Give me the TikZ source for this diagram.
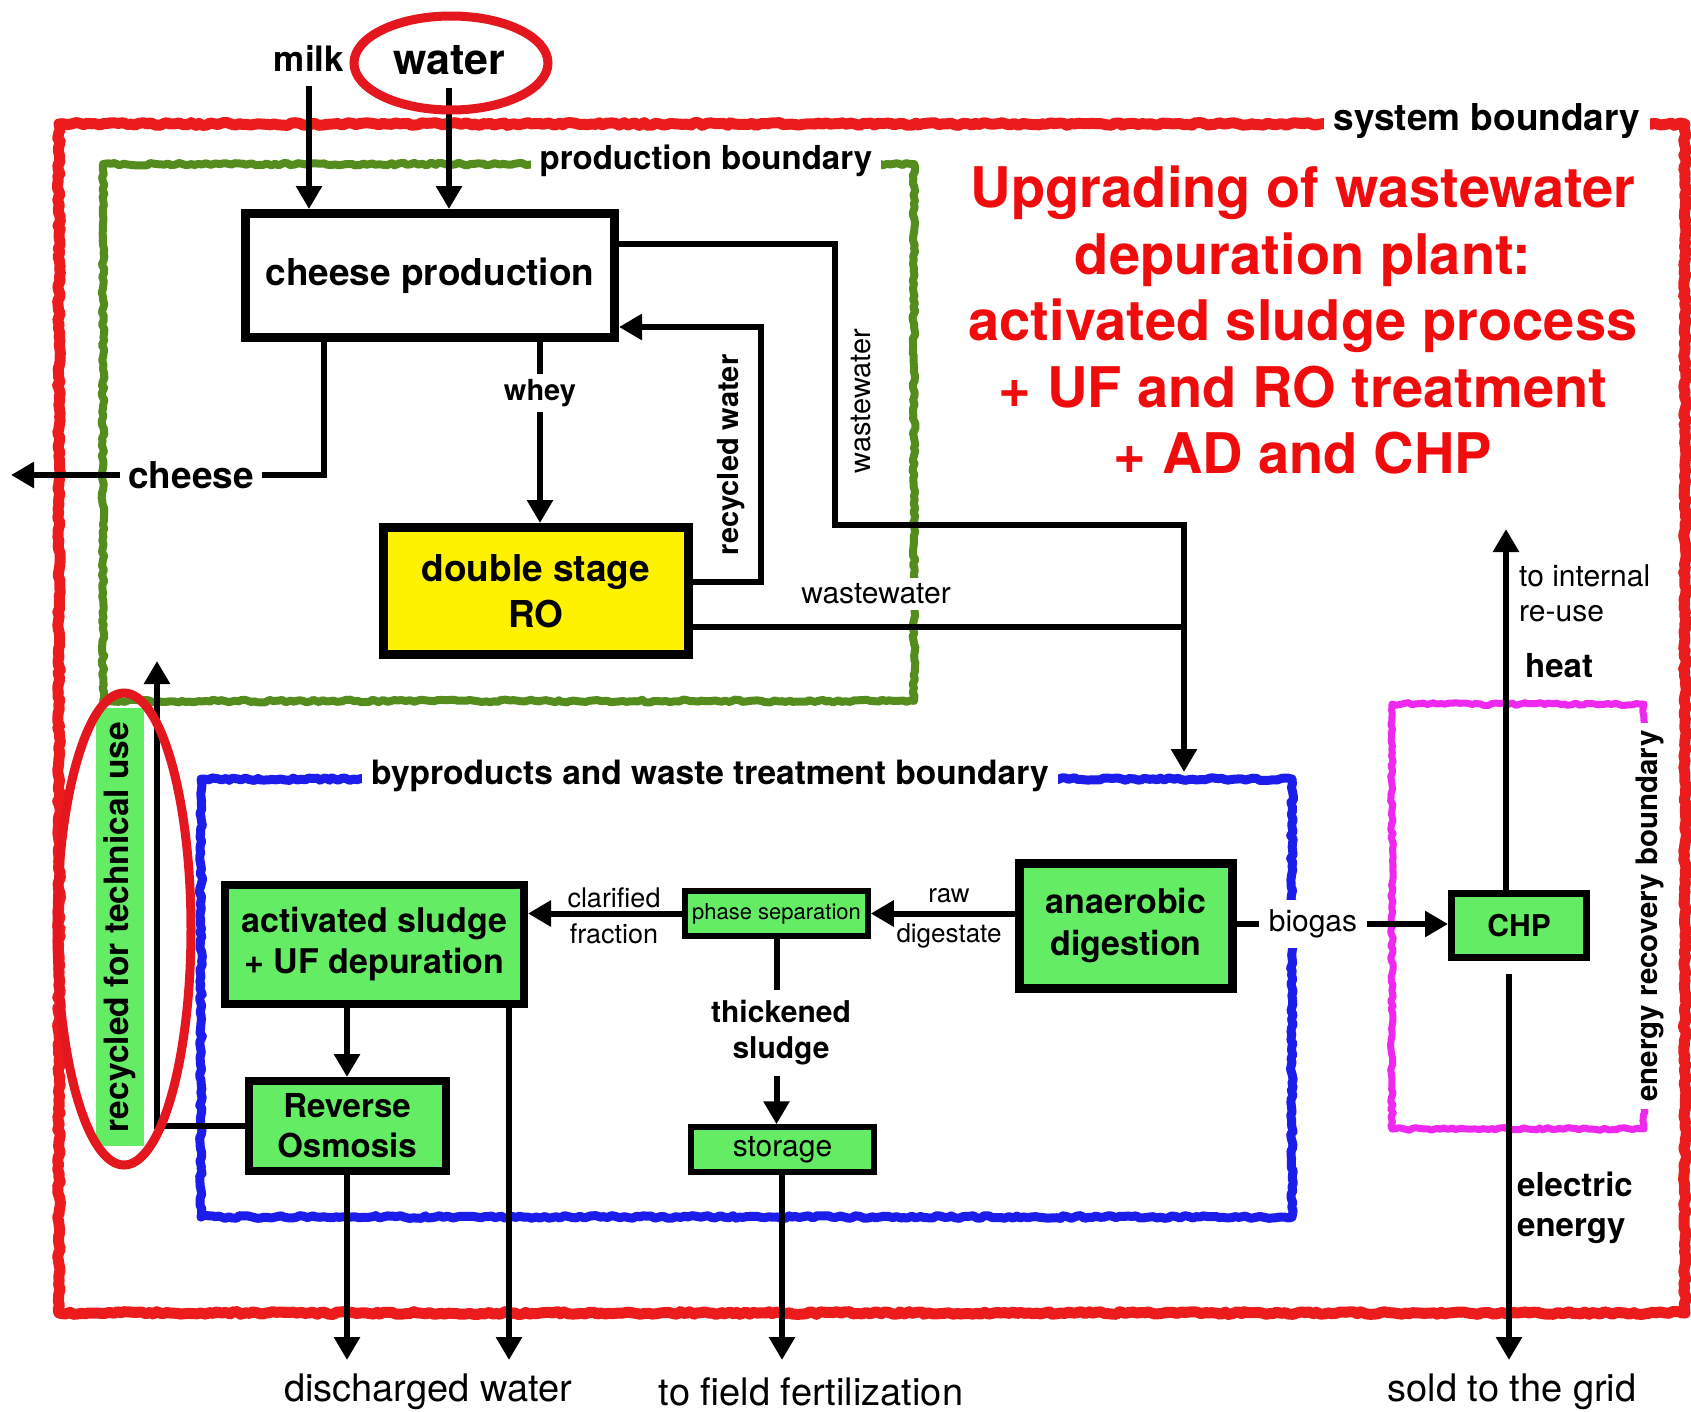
\documentclass[tikz,border=0pt]{standalone}
\usepackage{fontspec}
\setmainfont{TeX Gyre Heros}
\usetikzlibrary{arrows.meta,decorations.pathmorphing,calc}
\definecolor{sysred}{RGB}{236,28,28}
\definecolor{ellred}{RGB}{228,22,30}
\definecolor{titlered}{RGB}{240,12,12}
\definecolor{prodgreen}{RGB}{84,140,30}
\definecolor{bnblue}{RGB}{28,28,235}
\definecolor{bnmag}{RGB}{238,40,238}
\definecolor{boxgreen}{RGB}{100,236,100}
\begin{document}
\begin{tikzpicture}[x=1pt,y=-1pt,
  conn/.style={line width=6pt},
  arr/.style={conn,-{Triangle[length=23pt,width=25pt]}},
  bnd/.style={line width=#1,line join=round,decorate,
    decoration={random steps,segment length=4pt,amplitude=1.4pt}},
  procbox/.style={draw,line width=8pt,align=center,inner sep=0pt,
    font=\bfseries\fontsize{34}{41}\selectfont},
  greenbox/.style={procbox,fill=boxgreen},
  lbl/.style={inner sep=3pt,font=\fontsize{27}{32}\selectfont},
  blbl/.style={inner sep=3pt,font=\bfseries\fontsize{33}{40}\selectfont},
  blabel/.style={fill=white,inner sep=9pt,font=\bfseries\fontsize{33}{40}\selectfont}
]
\pgfmathsetseed{7}
\fill[white] (0,0) rectangle (1691,1411);
\useasboundingbox (0,0) rectangle (1691,1411);

% boundaries
\draw[sysred,bnd=11pt] (59,124) -- (1685,124) -- (1685,1313) -- (59,1313) -- cycle;
\draw[prodgreen,bnd=8pt] (103,164) -- (914,164) -- (914,701) -- (103,701) -- cycle;
\draw[bnblue,bnd=9pt] (201,779) -- (1292,779) -- (1292,1217) -- (201,1217) -- cycle;
\draw[bnmag,bnd=7pt] (1392,704) -- (1644,704) -- (1644,1129) -- (1392,1129) -- cycle;

% boundary labels
\node[blabel,inner sep=10pt,font=\bfseries\fontsize{37}{44}\selectfont] (syslab) at (1487,121) {system boundary};
\node[blabel] (prodlab) at (706,161) {production boundary};
\node[blabel,font=\bfseries\fontsize{33.5}{40}\selectfont] (bylab) at (710,776) {byproducts and waste treatment boundary};
\node[blabel,rotate=90,inner sep=8pt,font=\bfseries\fontsize{29.5}{35}\selectfont] (erlab) at (1650,916) {energy recovery boundary};

% title
\node[text=titlered,align=center,font=\bfseries\fontsize{56}{66.5}\selectfont] (title) at (1303,320)
  {Upgrading of wastewater\\depuration plant:\\activated sludge process\\+ UF and RO treatment\\+ AD and CHP};

% process boxes
\node[procbox,line width=9pt,minimum width=369pt,minimum height=124pt,
  font=\bfseries\fontsize{37}{44}\selectfont] (cheese) at (430,275.5) {cheese production};
\node[procbox,fill=yellow,line width=9pt,minimum width=305pt,minimum height=127pt,
  font=\bfseries\fontsize{37}{46}\selectfont] (dsro) at (536,591) {double stage\\RO};
\node[greenbox,minimum width=299pt,minimum height=119pt] (as) at (374.5,944.5) {activated sludge\\+ UF depuration};
\node[greenbox,minimum width=197pt,minimum height=90pt,font=\bfseries\fontsize{33}{40}\selectfont] (rosm) at (347,1126) {Reverse\\Osmosis};
\node[draw,fill=boxgreen,line width=5.5pt,minimum width=183pt,minimum height=45pt,inner sep=0pt,
  font=\fontsize{22}{26}\selectfont] (ps) at (776.5,913.5) {phase separation};
\node[draw,fill=boxgreen,line width=5.5pt,minimum width=183pt,minimum height=45pt,inner sep=0pt,
  font=\fontsize{30}{35}\selectfont] (storage) at (782.5,1149.5) {storage};
\node[greenbox,line width=9pt,minimum width=213pt,minimum height=125pt,font=\bfseries\fontsize{34}{42}\selectfont] (ad) at (1126,926) {anaerobic\\digestion};
\node[greenbox,line width=7pt,minimum width=135pt,minimum height=64pt,font=\bfseries\fontsize{30}{36}\selectfont] (chp) at (1519,925.5) {CHP};

% inputs
\node[blbl,font=\bfseries\fontsize{35}{40}\selectfont] (milk) at (309,58) {milk};
\node[blbl,font=\bfseries\fontsize{43}{50}\selectfont] (water) at (449,60) {water};
\draw[arr,shorten <=12pt] (milk.south) -- (milk.south |- cheese.north);
\draw[arr,shorten <=10pt] (water.south) -- (water.south |- cheese.north);

% cheese out
\node[blbl,inner sep=8pt,font=\bfseries\fontsize{37}{44}\selectfont] (cheeselab) at (191,475) {cheese};
\coordinate (cheeseend) at (11,475);
\draw[conn] ([xshift=83pt]cheese.south west) |- (cheeselab.east);
\draw[arr] (cheeselab.west) -- (cheeseend);

% whey
\node[blbl,inner sep=5pt,font=\bfseries\fontsize{29}{34}\selectfont] (whey) at (540,393) {whey};
\draw[conn] (cheese.south -| whey) -- (whey.north);
\draw[arr] (whey.south) -- (whey.south |- dsro.north);

% recycled water
\coordinate (rwc) at (761,582);
\coordinate (rwt) at (761,327);
\draw[arr] (dsro.east |- rwc) -- (rwc) -- (rwt) -- (cheese.east |- rwt);
\node[blbl,rotate=90,font=\bfseries\fontsize{29}{34}\selectfont] (rwlab) at (731,455) {recycled water};

% wastewater
\coordinate (ww1) at (835,244);
\coordinate (ww2) at (835,525);
\coordinate (ww3) at (1184,525);
\coordinate (ww4) at (1184,772);
\coordinate (ww5) at (1184,627);
\draw[arr] (cheese.east |- ww1) -- (ww1) -- (ww2) -- (ww3) -- (ww4);
\draw[conn] (dsro.east |- ww5) -- (ww5);
\node[lbl,rotate=90,font=\fontsize{29}{34}\selectfont] (wwlab1) at (861,401) {wastewater};
\node[lbl,fill=white,inner sep=6pt,font=\fontsize{30}{35}\selectfont] (wwlab2) at (876,594) {wastewater};

% recycled for technical use
\node[fill=boxgreen,rotate=90,inner xsep=14pt,inner ysep=7.5pt,
  font=\bfseries\fontsize{33.5}{40}\selectfont] (techlab) at (120,927) {recycled for technical use};
\coordinate (rc) at (157,1126);
\coordinate (rtop) at (157,661);
\draw[arr] (rosm.west) -- (rc) -- (rtop);

% treatment flows
\draw[arr] (as.south -| rosm.north) -- (rosm.north);
\coordinate (dw1) at (347,1360);
\coordinate (dw2) at (509,1360);
\draw[arr] (rosm.south) -- (dw1);
\draw[arr] (as.south -| dw2) -- (dw2);
\node[lbl,font=\fontsize{38}{44}\selectfont] (dislab) at (428,1392) {discharged water};

\draw[arr] (ps.west) -- (as.east |- ps.west);
\node[lbl] (clar) at (614,898) {clarified};
\node[lbl] (frac) at (614,934) {fraction};

\draw[arr] (ad.west |- ps.east) -- (ps.east);
\node[lbl,font=\fontsize{26}{30}\selectfont] (raw) at (949,896) {raw};
\node[lbl,font=\fontsize{26}{30}\selectfont] (dig) at (949,936) {digestate};

\node[blbl,align=center,inner sep=10pt,font=\bfseries\fontsize{30}{36}\selectfont] (thick) at (781,1033) {thickened\\sludge};
\draw[conn] (ps.south) -- (ps.south |- thick.north);
\draw[arr] (ps.south |- thick.south) -- (ps.south |- storage.north);
\coordinate (dfert) at (782,1360);
\draw[arr] (storage.south -| dfert) -- (dfert);
\node[lbl,font=\fontsize{38}{44}\selectfont] (fertlab) at (811,1392) {to field fertilization};

% energy
\node[lbl,fill=white,inner sep=10pt,font=\fontsize{30}{35}\selectfont] (biogas) at (1313,924) {biogas};
\draw[conn] (ad.east |- biogas.west) -- (biogas.west);
\draw[arr] (biogas.east) -- (chp.west |- biogas.east);

\coordinate (heattop) at (1506,529);
\draw[arr] (chp.north -| heattop) -- (heattop);
\node[lbl,anchor=west,align=left,font=\fontsize{30}{35}\selectfont] (intlab) at (1516,593) {to internal\\re-use};
\node[blbl,anchor=west] (heatlab) at (1522,666) {heat};

\coordinate (dgrid) at (1509,1360);
\draw[arr,shorten <=13pt] (chp.south -| dgrid) -- (dgrid);
\node[blbl,anchor=west,align=left,font=\bfseries\fontsize{33}{40}\selectfont] (elab) at (1514,1208) {electric\\energy};
\node[lbl,font=\fontsize{38}{44}\selectfont] (gridlab) at (1512,1392) {sold to the grid};

% red highlight ellipses
\draw[ellred,line width=9pt] (451,63) ellipse [x radius=97, y radius=47];
\draw[ellred,line width=9pt] (124,929) ellipse [x radius=67, y radius=236];
\end{tikzpicture}
\end{document}
